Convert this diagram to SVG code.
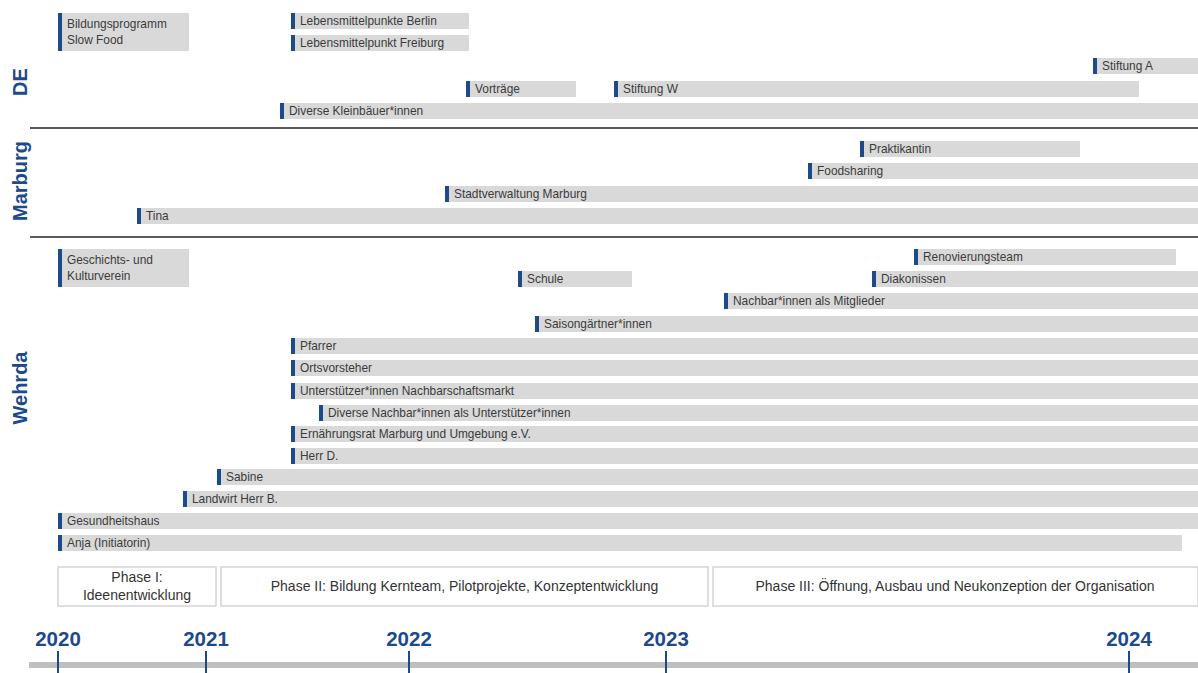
<svg xmlns="http://www.w3.org/2000/svg" width="1198" height="673" viewBox="0 0 1198 673">
  <style>
    .bar { fill: #d9d9d9; }
    .mark { fill: #1c4a8a; }
    .lbl { font-family: "Liberation Sans", Arial, sans-serif; font-size: 11.9px; fill: #3b3b3b; }
    .sec { font-family: "Liberation Sans", Arial, sans-serif; font-size: 20px; font-weight: bold; fill: #1c4a8a; }
    .year { font-family: "Liberation Sans", Arial, sans-serif; font-size: 20.5px; font-weight: bold; fill: #1c4a8a; text-anchor: middle; }
    .phase { fill: #ffffff; stroke: #d4d4d4; stroke-width: 1.5; }
    .ptxt { font-family: "Liberation Sans", Arial, sans-serif; font-size: 14px; fill: #333333; text-anchor: middle; }
    .sep { stroke: #5a5a5a; stroke-width: 2; }
    .tick { stroke: #1c4a8a; stroke-width: 2; }
  </style>

  <!-- section labels -->
  <g id="section-labels">
    <text class="sec" transform="translate(27,82) rotate(-90)" text-anchor="middle">DE</text>
    <text class="sec" transform="translate(27,181) rotate(-90)" text-anchor="middle">Marburg</text>
    <text class="sec" transform="translate(27,388) rotate(-90)" text-anchor="middle">Wehrda</text>
  </g>

  <!-- section separators -->
  <g id="separators">
    <line class="sep" x1="30" y1="128" x2="1198" y2="128"/>
    <line class="sep" x1="30" y1="237" x2="1198" y2="237"/>
  </g>

  <!-- DE -->
  <g id="bildungsprogramm"><rect class="bar" x="58" y="13" width="131" height="38"/><rect class="mark" x="58" y="13" width="4" height="38"/><text class="lbl" x="67" y="28">Bildungsprogramm</text><text class="lbl" x="67" y="44">Slow Food</text></g>
  <g id="lmp-berlin"><rect class="bar" x="291" y="13" width="178" height="16"/><rect class="mark" x="291" y="13" width="4" height="16"/><text class="lbl" x="300" y="25">Lebensmittelpunkte Berlin</text></g>
  <g id="lmp-freiburg"><rect class="bar" x="291" y="35" width="178" height="16"/><rect class="mark" x="291" y="35" width="4" height="16"/><text class="lbl" x="300" y="47">Lebensmittelpunkt Freiburg</text></g>
  <g id="stiftung-a"><rect class="bar" x="1093" y="58" width="105" height="16"/><rect class="mark" x="1093" y="58" width="4" height="16"/><text class="lbl" x="1102" y="70">Stiftung A</text></g>
  <g id="vortraege"><rect class="bar" x="466" y="81" width="110" height="16"/><rect class="mark" x="466" y="81" width="4" height="16"/><text class="lbl" x="475" y="93">Vorträge</text></g>
  <g id="stiftung-w"><rect class="bar" x="614" y="81" width="525" height="16"/><rect class="mark" x="614" y="81" width="4" height="16"/><text class="lbl" x="623" y="93">Stiftung W</text></g>
  <g id="kleinbaeuer"><rect class="bar" x="280" y="103" width="918" height="16"/><rect class="mark" x="280" y="103" width="4" height="16"/><text class="lbl" x="289" y="115">Diverse Kleinbäuer*innen</text></g>

  <!-- Marburg -->
  <g id="praktikantin"><rect class="bar" x="860" y="141" width="220" height="16"/><rect class="mark" x="860" y="141" width="4" height="16"/><text class="lbl" x="869" y="153">Praktikantin</text></g>
  <g id="foodsharing"><rect class="bar" x="808" y="163" width="390" height="16"/><rect class="mark" x="808" y="163" width="4" height="16"/><text class="lbl" x="817" y="175">Foodsharing</text></g>
  <g id="stadtverwaltung"><rect class="bar" x="445" y="186" width="753" height="16"/><rect class="mark" x="445" y="186" width="4" height="16"/><text class="lbl" x="454" y="198">Stadtverwaltung Marburg</text></g>
  <g id="tina"><rect class="bar" x="137" y="208" width="1061" height="16"/><rect class="mark" x="137" y="208" width="4" height="16"/><text class="lbl" x="146" y="220">Tina</text></g>

  <!-- Wehrda -->
  <g id="geschichtsverein"><rect class="bar" x="58" y="249" width="131" height="38"/><rect class="mark" x="58" y="249" width="4" height="38"/><text class="lbl" x="67" y="264">Geschichts- und</text><text class="lbl" x="67" y="280">Kulturverein</text></g>
  <g id="renovierungsteam"><rect class="bar" x="914" y="249" width="262" height="16"/><rect class="mark" x="914" y="249" width="4" height="16"/><text class="lbl" x="923" y="261">Renovierungsteam</text></g>
  <g id="schule"><rect class="bar" x="518" y="271" width="114" height="16"/><rect class="mark" x="518" y="271" width="4" height="16"/><text class="lbl" x="527" y="283">Schule</text></g>
  <g id="diakonissen"><rect class="bar" x="872" y="271" width="326" height="16"/><rect class="mark" x="872" y="271" width="4" height="16"/><text class="lbl" x="881" y="283">Diakonissen</text></g>
  <g id="nachbar-mitglieder"><rect class="bar" x="724" y="293" width="474" height="16"/><rect class="mark" x="724" y="293" width="4" height="16"/><text class="lbl" x="733" y="305">Nachbar*innen als Mitglieder</text></g>
  <g id="saisongaertner"><rect class="bar" x="535" y="316" width="663" height="16"/><rect class="mark" x="535" y="316" width="4" height="16"/><text class="lbl" x="544" y="328">Saisongärtner*innen</text></g>
  <g id="pfarrer"><rect class="bar" x="291" y="338" width="907" height="16"/><rect class="mark" x="291" y="338" width="4" height="16"/><text class="lbl" x="300" y="350">Pfarrer</text></g>
  <g id="ortsvorsteher"><rect class="bar" x="291" y="360" width="907" height="16"/><rect class="mark" x="291" y="360" width="4" height="16"/><text class="lbl" x="300" y="372">Ortsvorsteher</text></g>
  <g id="unterstuetzer-markt"><rect class="bar" x="291" y="383" width="907" height="16"/><rect class="mark" x="291" y="383" width="4" height="16"/><text class="lbl" x="300" y="395">Unterstützer*innen Nachbarschaftsmarkt</text></g>
  <g id="nachbar-unterstuetzer"><rect class="bar" x="319" y="405" width="879" height="16"/><rect class="mark" x="319" y="405" width="4" height="16"/><text class="lbl" x="328" y="417">Diverse Nachbar*innen als Unterstützer*innen</text></g>
  <g id="ernaehrungsrat"><rect class="bar" x="291" y="426" width="907" height="16"/><rect class="mark" x="291" y="426" width="4" height="16"/><text class="lbl" x="300" y="438">Ernährungsrat Marburg und Umgebung e.V.</text></g>
  <g id="herr-d"><rect class="bar" x="291" y="448" width="907" height="16"/><rect class="mark" x="291" y="448" width="4" height="16"/><text class="lbl" x="300" y="460">Herr D.</text></g>
  <g id="sabine"><rect class="bar" x="217" y="469" width="981" height="16"/><rect class="mark" x="217" y="469" width="4" height="16"/><text class="lbl" x="226" y="481">Sabine</text></g>
  <g id="landwirt"><rect class="bar" x="183" y="491" width="1015" height="16"/><rect class="mark" x="183" y="491" width="4" height="16"/><text class="lbl" x="192" y="503">Landwirt Herr B.</text></g>
  <g id="gesundheitshaus"><rect class="bar" x="58" y="513" width="1140" height="16"/><rect class="mark" x="58" y="513" width="4" height="16"/><text class="lbl" x="67" y="525">Gesundheitshaus</text></g>
  <g id="anja"><rect class="bar" x="58" y="535" width="1124" height="16"/><rect class="mark" x="58" y="535" width="4" height="16"/><text class="lbl" x="67" y="547">Anja (Initiatorin)</text></g>

  <!-- project phases -->
  <g id="phase-1"><rect class="phase" x="58" y="567" width="158" height="39"/><text class="ptxt" x="137" y="582">Phase I:</text><text class="ptxt" x="137" y="600">Ideenentwicklung</text></g>
  <g id="phase-2"><rect class="phase" x="221" y="567" width="487" height="39"/><text class="ptxt" x="464.5" y="591">Phase II: Bildung Kernteam, Pilotprojekte, Konzeptentwicklung</text></g>
  <g id="phase-3"><rect class="phase" x="713" y="567" width="485" height="39"/><text class="ptxt" x="955" y="591">Phase III: Öffnung, Ausbau und Neukonzeption der Organisation</text></g>

  <!-- time axis -->
  <g id="axis">
    <rect x="29" y="662" width="1169" height="6" fill="#bfbfbf"/>
    <line class="tick" x1="58" y1="651" x2="58" y2="673"/>
    <line class="tick" x1="206" y1="651" x2="206" y2="673"/>
    <line class="tick" x1="409" y1="651" x2="409" y2="673"/>
    <line class="tick" x1="666" y1="651" x2="666" y2="673"/>
    <line class="tick" x1="1129" y1="651" x2="1129" y2="673"/>
    <text class="year" x="58" y="646">2020</text>
    <text class="year" x="206" y="646">2021</text>
    <text class="year" x="409" y="646">2022</text>
    <text class="year" x="666" y="646">2023</text>
    <text class="year" x="1129" y="646">2024</text>
  </g>
</svg>
